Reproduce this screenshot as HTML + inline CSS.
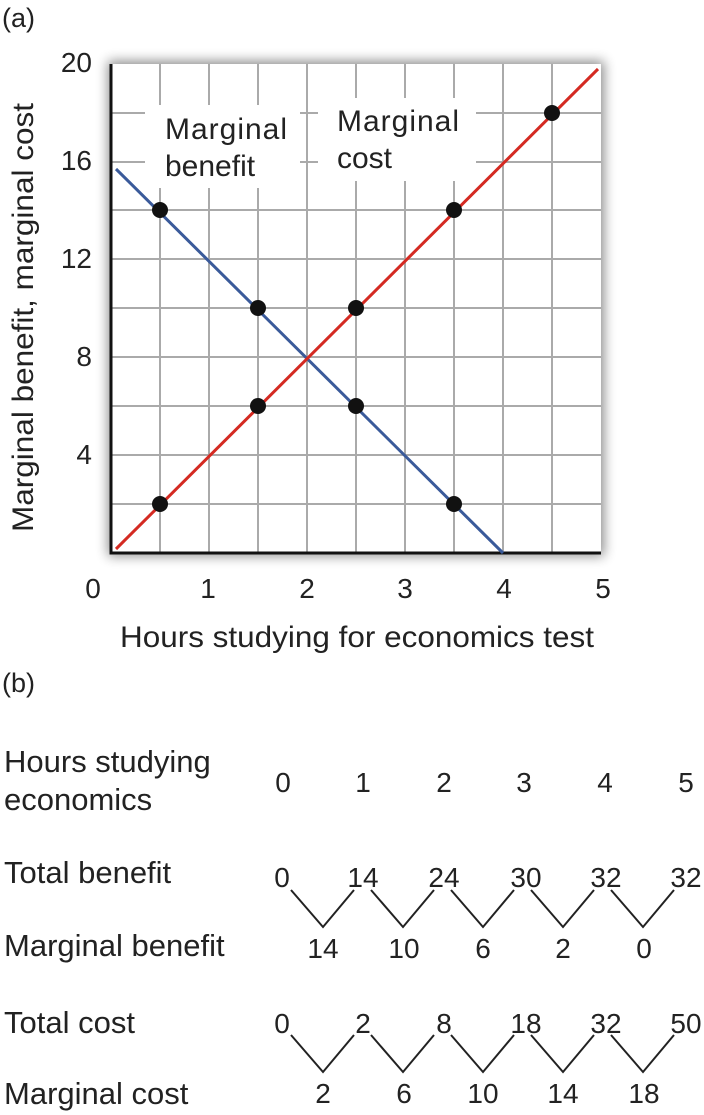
<!DOCTYPE html>
<html><head><meta charset="utf-8"><style>
html,body{margin:0;padding:0;background:#fff;}
svg{display:block;font-family:"Liberation Sans",sans-serif;}
</style></head><body>
<svg width="704" height="1115" viewBox="0 0 704 1115" xmlns="http://www.w3.org/2000/svg">
<defs>
<filter id="sh" x="-10%" y="-10%" width="120%" height="120%"><feGaussianBlur stdDeviation="6"/></filter>
</defs>
<text x="2" y="27" font-size="27" fill="#222">(a)</text>
<rect x="108" y="61" width="496" height="495" fill="#000" opacity="0.45" filter="url(#sh)"/>
<rect x="111" y="64" width="490" height="489" fill="#fff"/>
<g stroke="#aaa" stroke-width="2">
<line x1="160" y1="64" x2="160" y2="553"/><line x1="209" y1="64" x2="209" y2="553"/>
<line x1="258" y1="64" x2="258" y2="553"/><line x1="307" y1="64" x2="307" y2="553"/>
<line x1="356" y1="64" x2="356" y2="553"/><line x1="405" y1="64" x2="405" y2="553"/>
<line x1="454" y1="64" x2="454" y2="553"/><line x1="503" y1="64" x2="503" y2="553"/>
<line x1="552" y1="64" x2="552" y2="553"/>
<line x1="111" y1="113" x2="601" y2="113"/><line x1="111" y1="162" x2="601" y2="162"/>
<line x1="111" y1="210" x2="601" y2="210"/><line x1="111" y1="259" x2="601" y2="259"/>
<line x1="111" y1="308" x2="601" y2="308"/><line x1="111" y1="357" x2="601" y2="357"/>
<line x1="111" y1="406" x2="601" y2="406"/><line x1="111" y1="455" x2="601" y2="455"/>
<line x1="111" y1="504" x2="601" y2="504"/>
</g>
<rect x="145" y="105" width="155" height="83" fill="#fff"/>
<rect x="318" y="98" width="158" height="83" fill="#fff"/>
<text font-size="30" fill="#222"><tspan x="165" y="139" textLength="122">Marginal</tspan><tspan x="165" y="176">benefit</tspan></text>
<text font-size="30" fill="#222"><tspan x="337" y="131" textLength="122">Marginal</tspan><tspan x="337" y="168">cost</tspan></text>
<path d="M111 64 V553 H601" fill="none" stroke="#111" stroke-width="3"/>
<line x1="116" y1="169" x2="503" y2="553" stroke="#3a5a9a" stroke-width="3"/>
<line x1="116" y1="549" x2="598" y2="69" stroke="#d42a22" stroke-width="3"/>
<g fill="#111">
<circle cx="160" cy="210" r="8"/><circle cx="258" cy="308" r="8"/><circle cx="356" cy="406" r="8"/><circle cx="454" cy="504" r="8"/>
<circle cx="160" cy="504" r="8"/><circle cx="258" cy="406" r="8"/><circle cx="356" cy="308" r="8"/><circle cx="454" cy="210" r="8"/><circle cx="552" cy="113" r="8"/>
</g>
<g font-size="28" fill="#222" text-anchor="end">
<text x="92" y="72">20</text><text x="92" y="170">16</text><text x="92" y="268">12</text><text x="92" y="366">8</text><text x="92" y="464">4</text>
</g>
<g font-size="28" fill="#222" text-anchor="middle">
<text x="93" y="598">0</text><text x="208" y="598">1</text><text x="307" y="598">2</text><text x="405" y="598">3</text><text x="504" y="598">4</text><text x="603" y="598">5</text>
</g>
<text x="120" y="647" font-size="30" fill="#222" textLength="474" lengthAdjust="spacingAndGlyphs">Hours studying for economics test</text>
<text transform="translate(33,532) rotate(-90)" font-size="30" fill="#222" textLength="429" lengthAdjust="spacingAndGlyphs">Marginal benefit, marginal cost</text>

<text x="2" y="692" font-size="27" fill="#222">(b)</text>
<g font-size="31" fill="#222">
<text x="4" y="772">Hours studying</text><text x="4" y="810">economics</text>
<text x="4" y="883">Total benefit</text><text x="4" y="956">Marginal benefit</text>
<text x="4" y="1033">Total cost</text><text x="4" y="1104">Marginal cost</text>
</g>
<g font-size="28" fill="#222" text-anchor="middle">
<text x="283" y="792">0</text><text x="363" y="792">1</text><text x="444" y="792">2</text><text x="524" y="792">3</text><text x="605" y="792">4</text><text x="686" y="792">5</text>
<text x="282" y="887">0</text><text x="363" y="887">14</text><text x="444" y="887">24</text><text x="526" y="887">30</text><text x="606" y="887">32</text><text x="686" y="887">32</text>
<text x="323" y="958">14</text><text x="404" y="958">10</text><text x="483" y="958">6</text><text x="563" y="958">2</text><text x="644" y="958">0</text>
<text x="282" y="1033">0</text><text x="363" y="1033">2</text><text x="444" y="1033">8</text><text x="526" y="1033">18</text><text x="606" y="1033">32</text><text x="686" y="1033">50</text>
<text x="323" y="1103">2</text><text x="404" y="1103">6</text><text x="483" y="1103">10</text><text x="563" y="1103">14</text><text x="644" y="1103">18</text>
</g>
<g fill="none" stroke="#222" stroke-width="2">
<path d="M291 890 L323 927 L354 890"/><path d="M371 890 L403 927 L434 890"/><path d="M451 890 L483 927 L514 890"/><path d="M531 890 L563 927 L594 890"/><path d="M611 890 L643 927 L674 890"/>
<path d="M291 1035 L323 1072 L354 1035"/><path d="M371 1035 L403 1072 L434 1035"/><path d="M451 1035 L483 1072 L514 1035"/><path d="M531 1035 L563 1072 L594 1035"/><path d="M611 1035 L643 1072 L674 1035"/>
</g>
</svg>
</body></html>
